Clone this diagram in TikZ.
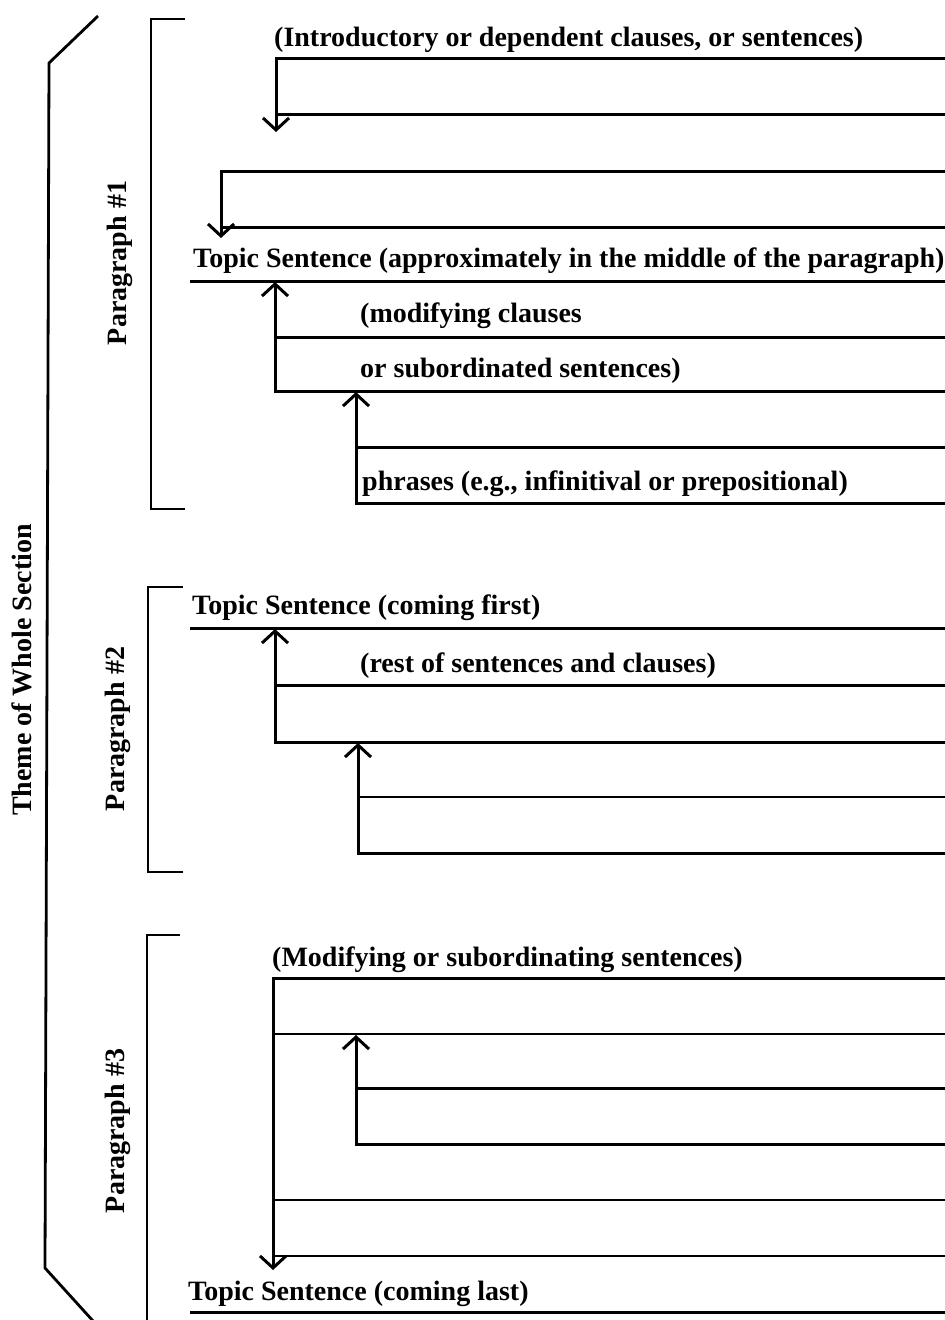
\documentclass[tikz,border=0pt]{standalone}
\usepackage{fontspec}
\setmainfont{Liberation Serif}
\usetikzlibrary{arrows.meta}
\begin{document}
\begin{tikzpicture}[x=1pt,y=-1pt,
  thickline/.style={line width=3pt},
  thinline/.style={line width=1.6pt},
  brk/.style={line width=2.8pt, line join=miter},
  txt/.style={anchor=base west, inner sep=0pt, font=\fontsize{28}{32}\selectfont\bfseries},
  lbl/.style={rotate=90, inner sep=0pt, font=\fontsize{28}{32}\selectfont\bfseries},
  arr/.style={-{Straight Barb[length=12pt,width=26pt]}}
]
\useasboundingbox (0,0) rectangle (945,1320);

% outer brace
\coordinate (o1) at (98,16); \coordinate (o2) at (49,63);
\coordinate (o3) at (45,1268); \coordinate (o4) at (94,1322);
\draw[brk] (o1) -- (o2) -- (o3) -- (o4);
\node[lbl] (theme) at (22,670) {Theme of Whole Section};

% paragraph brackets
\coordinate (b1a) at (185,19); \coordinate (b1b) at (151,19);
\coordinate (b1c) at (151,509); \coordinate (b1d) at (185,509);
\draw[brk] (b1a) -- (b1b) -- (b1c) -- (b1d);
\node[lbl] (p1) at (120,263) {Paragraph \#1};

\coordinate (b2a) at (183,587); \coordinate (b2b) at (148,587);
\coordinate (b2c) at (148,872); \coordinate (b2d) at (183,872);
\draw[brk] (b2a) -- (b2b) -- (b2c) -- (b2d);
\node[lbl] (p2) at (118,729) {Paragraph \#2};

\coordinate (b3a) at (180,935); \coordinate (b3b) at (147,935);
\coordinate (b3c) at (147,1325);
\draw[brk] (b3a) -- (b3b) -- (b3c);
\node[lbl] (p3) at (118,1131) {Paragraph \#3};

% ---------- Paragraph 1 ----------
\node[txt] (t1) at (274,46) {(Introductory or dependent clauses, or sentences)};
\coordinate (a1r) at (945,58); \coordinate (a1c) at (276,58); \coordinate (a1t) at (276,132);
\draw[thickline,arr] (a1r) -- (a1c) -- (a1t);
\coordinate (l1a) at (276,114); \coordinate (l1b) at (945,114);
\draw[thickline] (l1a) -- (l1b);

\coordinate (a2r) at (945,171); \coordinate (a2c) at (221,171); \coordinate (a2t) at (221,238);
\draw[thickline,arr] (a2r) -- (a2c) -- (a2t);
\coordinate (l2a) at (221,227); \coordinate (l2b) at (945,227);
\draw[thickline] (l2a) -- (l2b);

\node[txt] (ts1) at (193,267) {Topic Sentence (approximately in the middle of the paragraph)};
\coordinate (ts1a) at (190,281); \coordinate (ts1b) at (945,281);
\draw[thickline] (ts1a) -- (ts1b);

\node[txt] (m1) at (360,322) {(modifying clauses};
\node[txt] (m2) at (360,377) {or subordinated sentences)};
\coordinate (a3r) at (945,391); \coordinate (a3c) at (275,391); \coordinate (a3t) at (275,282);
\draw[thickline,arr] (a3r) -- (a3c) -- (a3t);
\coordinate (l3a) at (275,337); \coordinate (l3b) at (945,337);
\draw[thickline] (l3a) -- (l3b);

\node[txt] (ph) at (362,490) {phrases (e.g., infinitival or prepositional)};
\coordinate (a4r) at (945,503); \coordinate (a4c) at (356,503); \coordinate (a4t) at (356,392);
\draw[thickline,arr] (a4r) -- (a4c) -- (a4t);
\coordinate (l4a) at (356,447); \coordinate (l4b) at (945,447);
\draw[thickline] (l4a) -- (l4b);

% ---------- Paragraph 2 ----------
\node[txt] (ts2) at (192,614) {Topic Sentence (coming first)};
\coordinate (ts2a) at (190,628); \coordinate (ts2b) at (945,628);
\draw[thickline] (ts2a) -- (ts2b);

\node[txt] (r1) at (360,672) {(rest of sentences and clauses)};
\coordinate (a5r) at (945,742); \coordinate (a5c) at (275,742); \coordinate (a5t) at (275,629);
\draw[thickline,arr] (a5r) -- (a5c) -- (a5t);
\coordinate (l5a) at (275,685); \coordinate (l5b) at (945,685);
\draw[thickline] (l5a) -- (l5b);

\coordinate (a6r) at (945,853); \coordinate (a6c) at (358,853); \coordinate (a6t) at (358,743);
\draw[thickline,arr] (a6r) -- (a6c) -- (a6t);
\coordinate (l6a) at (358,797); \coordinate (l6b) at (945,797);
\draw[thinline] (l6a) -- (l6b);

% ---------- Paragraph 3 ----------
\node[txt] (ms) at (272,966) {(Modifying or subordinating sentences)};
\coordinate (a7r) at (945,978); \coordinate (a7c) at (273,978); \coordinate (a7t) at (273,1270);
\draw[thickline,arr] (a7r) -- (a7c) -- (a7t);
\coordinate (l7a) at (273,1034); \coordinate (l7b) at (945,1034);
\draw[thinline] (l7a) -- (l7b);

\coordinate (a8r) at (945,1144); \coordinate (a8c) at (356,1144); \coordinate (a8t) at (356,1035);
\draw[thickline,arr] (a8r) -- (a8c) -- (a8t);
\coordinate (l8a) at (356,1088); \coordinate (l8b) at (945,1088);
\draw[thickline] (l8a) -- (l8b);

\coordinate (l9a) at (273,1200); \coordinate (l9b) at (945,1200);
\draw[thinline] (l9a) -- (l9b);
\coordinate (l10a) at (275,1256); \coordinate (l10b) at (945,1256);
\draw[thinline] (l10a) -- (l10b);

\node[txt] (ts3) at (188,1300) {Topic Sentence (coming last)};
\coordinate (ts3a) at (190,1312); \coordinate (ts3b) at (945,1312);
\draw[thickline] (ts3a) -- (ts3b);
\end{tikzpicture}
\end{document}
